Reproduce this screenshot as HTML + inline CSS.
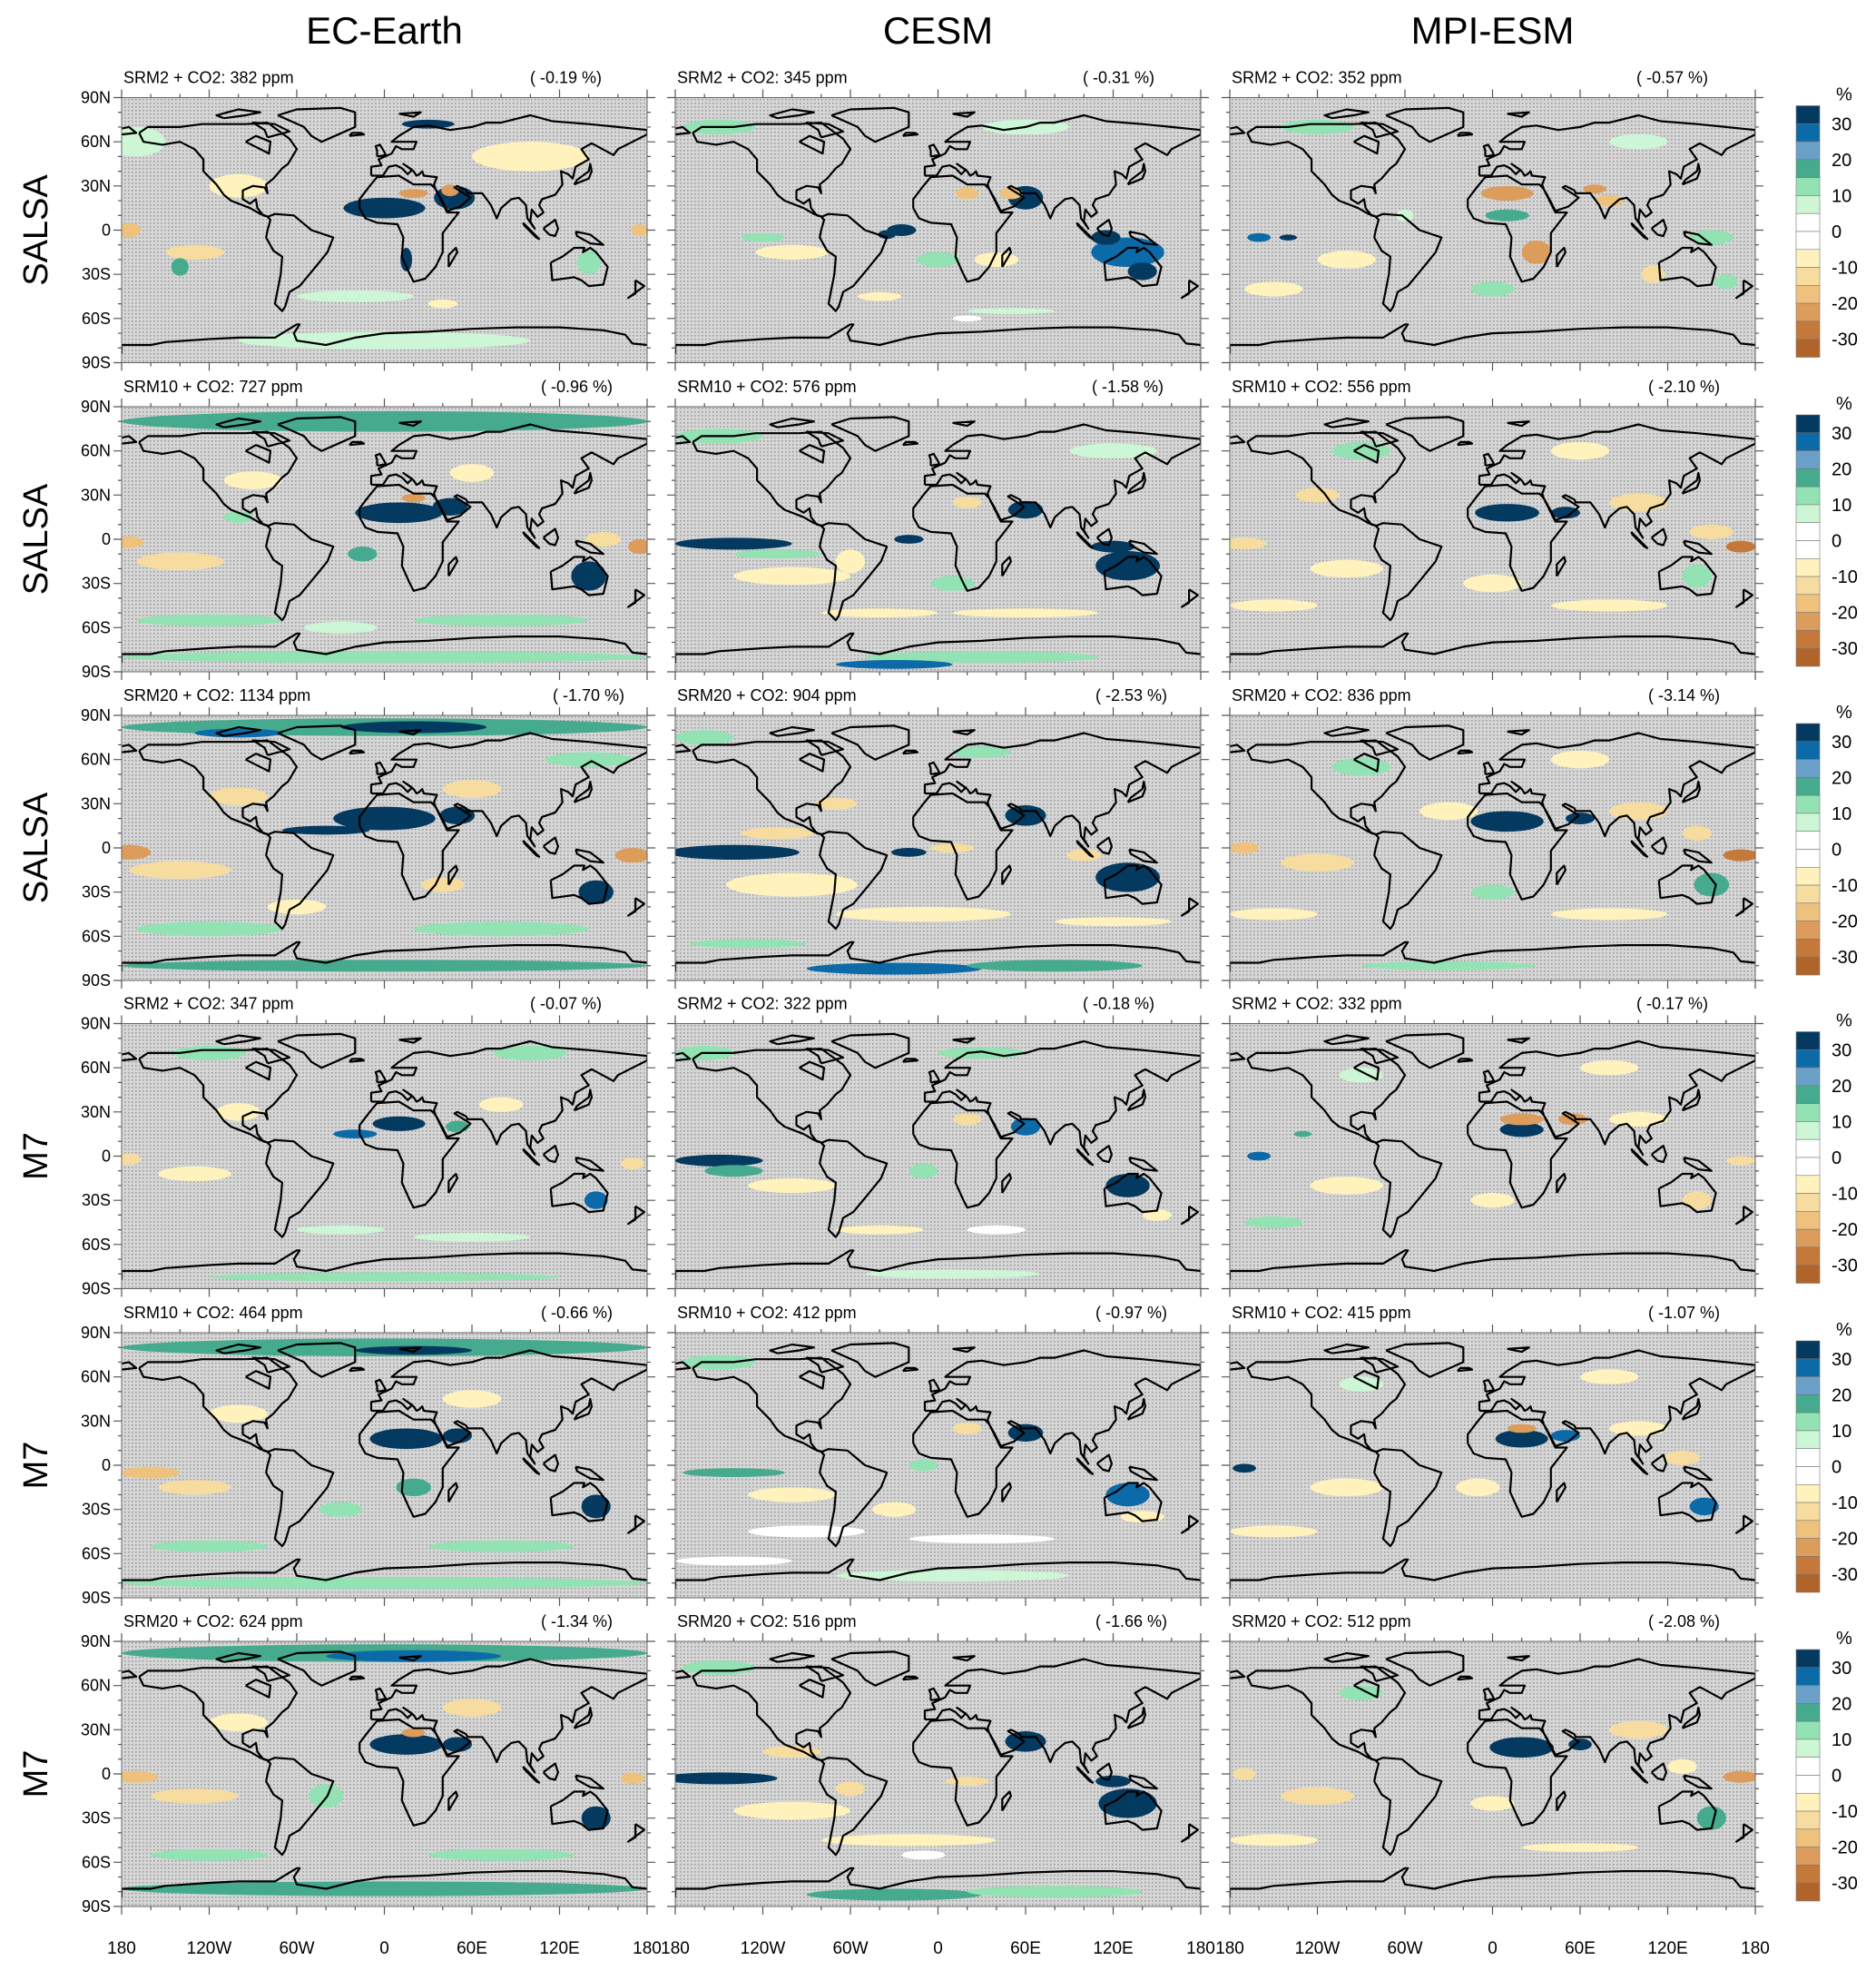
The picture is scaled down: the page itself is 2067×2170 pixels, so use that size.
<!DOCTYPE html>
<html><head><meta charset="utf-8">
<style>
html,body{margin:0;padding:0;background:#fff;}
svg{display:block;font-family:"Liberation Sans",Arial,sans-serif;}
</style></head>
<body>
<svg id="fig" width="2067" height="2170" viewBox="0 0 2067 2170" xmlns="http://www.w3.org/2000/svg">
<defs>
<pattern id="stip" width="4" height="4" patternUnits="userSpaceOnUse">
<rect width="4" height="4" fill="#d6d6d6"/><rect x="1" y="1" width="1.6" height="1.6" fill="#9c9c9c"/>
</pattern>
</defs>
</svg>
<script>
const modelNames = ['EC-Earth','CESM','MPI-ESM'];
const rowLabels = ['SALSA','SALSA','SALSA','M7','M7','M7'];
const subtitles = [
 ['SRM2 + CO2: 382 ppm','SRM2 + CO2: 345 ppm','SRM2 + CO2: 352 ppm'],
 ['SRM10 + CO2: 727 ppm','SRM10 + CO2: 576 ppm','SRM10 + CO2: 556 ppm'],
 ['SRM20 + CO2: 1134 ppm','SRM20 + CO2: 904 ppm','SRM20 + CO2: 836 ppm'],
 ['SRM2 + CO2: 347 ppm','SRM2 + CO2: 322 ppm','SRM2 + CO2: 332 ppm'],
 ['SRM10 + CO2: 464 ppm','SRM10 + CO2: 412 ppm','SRM10 + CO2: 415 ppm'],
 ['SRM20 + CO2: 624 ppm','SRM20 + CO2: 516 ppm','SRM20 + CO2: 512 ppm']];
const globalChange = [
 ['-0.19','-0.31','-0.57'],['-0.96','-1.58','-2.10'],['-1.70','-2.53','-3.14'],
 ['-0.07','-0.18','-0.17'],['-0.66','-0.97','-1.07'],['-1.34','-1.66','-2.08']];
const levelBounds = [-30,-25,-20,-15,-10,-5,0,5,10,15,20,25,30];
const levelColors = ['#b0642a','#c4793a','#dc9c5c','#eec27c','#f6dc9e','#fff2bc','#ffffff','#ffffff','#cdf6d6','#92e2b4','#45aa8e','#6aa0c8','#0c6aa8','#053a60'];
const colorbarLabels = ['30','20','10','0','-10','-20','-30'];
const latTicks = [90,60,30,0,-30,-60,-90];
const latTickLabels = ['90N','60N','30N','0','30S','60S','90S'];
const lonTicks = [-180,-120,-60,0,60,120,180];
const lonTickLabels = ['180','120W','60W','0','60E','120E','180'];
// anomaly blobs: [lon, lat, rxDeg, ryDeg, value%]
const blobs = [
 [[0,15,28,7,35],[48,22,14,8,35],[20,25,10,3,-22],[45,27,6,4,-22],[30,72,18,3,35],[15,-20,4,8,30],[-175,0,8,5,-20],[175,0,6,4,-20],[-130,-15,20,5,-15],[-140,-25,6,6,15],[100,50,40,10,-8],[-170,60,20,10,8],[0,-75,100,6,8],[-100,30,20,8,-10],[140,-22,8,8,12],[-20,-45,40,4,8],[40,-50,10,3,-8]],
 [[-25,0,10,4,30],[-35,-3,6,3,35],[60,22,12,8,30],[50,25,8,4,-18],[20,25,8,4,-18],[130,-15,25,10,25],[140,-28,10,6,35],[115,-5,10,5,30],[-100,-15,25,5,-8],[-40,-45,15,3,-8],[50,-55,30,2,8],[-120,-5,15,3,12],[-150,70,25,5,10],[60,70,30,5,8],[20,-60,10,2,0],[40,-20,15,5,-10],[0,-20,15,5,12]],
 [[10,25,18,5,-25],[10,10,15,4,15],[-160,-5,8,3,25],[-140,-5,6,2,30],[30,-15,10,8,-22],[80,20,10,4,-18],[70,28,8,3,-25],[110,-30,8,6,-15],[-100,-20,20,6,-8],[-60,10,6,4,8],[150,-5,15,5,12],[-150,-40,20,5,-10],[0,-40,15,5,10],[-120,70,25,5,10],[100,60,20,5,8],[160,-35,8,5,10]],
 [[0,80,180,7,15],[10,18,30,7,35],[45,22,12,6,30],[20,28,8,3,-25],[-175,-2,10,4,-20],[175,-5,8,5,-22],[-140,-15,30,6,-15],[140,-25,12,10,30],[-120,-55,50,4,10],[80,-55,60,4,10],[0,-80,180,4,12],[-90,40,20,6,-10],[60,45,15,6,-10],[-30,-60,25,4,8],[150,0,12,5,-15],[-100,15,10,4,10],[-15,-10,10,5,15]],
 [[-140,-3,40,4,35],[-20,0,10,3,35],[130,-18,22,10,30],[120,-5,15,4,35],[60,20,12,6,30],[-100,-25,40,6,-10],[-40,-50,40,3,-8],[60,-50,50,3,-8],[-30,-85,40,3,25],[30,-80,80,4,12],[-110,-10,30,3,12],[10,-30,15,5,12],[-60,-15,10,8,-10],[-150,70,30,5,12],[120,60,30,5,8],[20,25,10,4,-15]],
 [[10,18,22,6,35],[50,18,10,4,30],[-170,-3,15,4,-15],[170,-5,10,4,-28],[-120,30,15,5,-12],[100,25,20,6,-12],[-100,-20,25,6,-10],[0,-30,20,6,-8],[140,-25,10,8,12],[-150,-45,30,4,-8],[80,-45,40,4,-8],[60,60,20,6,-10],[-90,60,20,6,10],[150,5,15,5,-12]],
 [[0,82,180,6,15],[20,82,50,4,35],[-100,78,30,3,25],[0,20,35,8,35],[-40,12,30,3,30],[50,22,12,6,30],[145,-30,12,8,30],[-175,-3,15,5,-25],[170,-5,12,5,-22],[-140,-15,35,6,-15],[-120,-55,50,5,12],[80,-55,60,5,12],[0,-80,180,4,15],[-60,-40,20,5,-10],[60,40,20,6,-12],[-100,35,20,6,-12],[140,60,30,5,12],[40,-25,15,5,-12]],
 [[-140,-3,45,5,35],[-20,-3,12,3,35],[130,-20,22,10,30],[60,22,14,7,30],[-100,-25,45,8,-10],[-10,-45,60,5,-8],[120,-50,40,3,-8],[-30,-82,60,4,25],[80,-80,60,4,15],[-130,-65,40,3,12],[-110,10,25,4,-15],[10,0,15,3,-15],[100,-5,12,4,-12],[-70,30,15,4,-15],[-160,75,20,5,12],[30,65,20,4,12]],
 [[10,18,25,7,35],[60,20,10,4,30],[170,-5,12,4,-28],[-170,0,10,4,-18],[-120,-10,25,6,-12],[-30,25,20,6,-10],[100,25,20,6,-12],[150,-25,12,8,15],[0,-30,15,5,12],[-150,-45,30,4,-8],[80,-45,40,4,-8],[-30,-80,60,3,10],[60,60,20,6,-10],[-90,55,20,6,12],[140,10,10,5,-12]],
 [[10,22,18,5,30],[-20,15,15,3,25],[50,20,8,4,15],[-175,-2,8,4,-15],[-130,-12,25,5,-10],[145,-30,8,6,25],[-100,30,15,6,-10],[80,35,15,5,-10],[-30,-50,30,3,8],[60,-55,40,3,8],[0,-82,120,3,10],[-120,70,25,5,10],[100,70,25,5,10],[170,-5,8,4,-15]],
 [[-150,-3,30,4,35],[-140,-10,20,4,15],[130,-20,15,8,30],[60,20,10,6,25],[20,25,10,4,-15],[-100,-20,30,5,-8],[-40,-50,30,3,-8],[40,-50,20,3,0],[150,-40,10,4,-10],[-160,70,20,5,10],[30,70,30,4,10],[-10,-10,10,5,12],[10,-80,60,3,8]],
 [[20,18,15,5,35],[20,25,15,4,-22],[55,25,10,4,-25],[-160,0,8,3,25],[-130,15,6,2,15],[170,-3,10,3,-15],[140,-30,10,6,-12],[-100,-20,25,6,-8],[0,-30,15,5,-10],[100,25,20,5,-10],[-150,-45,20,4,10],[-90,55,15,5,8],[80,60,20,5,-8]],
 [[0,80,180,6,15],[20,78,40,3,30],[15,18,25,7,35],[50,20,10,5,30],[145,-28,10,8,30],[-160,-5,20,4,-20],[-130,-15,25,5,-15],[0,-80,180,4,12],[-120,-55,40,4,10],[80,-55,50,4,10],[-100,35,20,6,-10],[60,45,20,6,-10],[-30,-30,15,5,10],[20,-15,12,6,15]],
 [[-140,-5,35,3,15],[60,22,12,6,30],[20,25,10,4,-15],[130,-20,15,8,25],[-90,-45,40,4,0],[30,-50,50,3,0],[-140,-65,40,3,0],[-100,-20,30,5,-10],[-30,-30,15,5,-8],[-150,70,25,5,10],[140,-35,15,4,-10],[-10,0,10,4,12],[10,-75,80,4,8]],
 [[20,18,18,6,35],[-170,-2,8,3,35],[50,20,10,4,25],[20,25,10,3,-25],[145,-28,10,6,25],[-100,-15,25,6,-10],[-10,-15,15,6,-10],[100,25,20,5,-10],[130,5,12,5,-12],[-150,-45,30,4,-8],[-90,55,15,5,8],[80,60,20,5,-8]],
 [[0,82,180,6,15],[20,80,60,4,25],[15,20,25,7,35],[20,28,8,3,-25],[50,20,10,5,30],[145,-30,10,8,30],[-170,-2,15,4,-20],[170,-3,8,4,-20],[-130,-15,30,5,-15],[0,-78,180,5,15],[-120,-55,40,4,10],[80,-55,50,4,10],[-100,35,20,6,-10],[60,45,20,6,-12],[-40,-15,12,8,10]],
 [[-150,-3,40,4,35],[60,22,14,7,30],[130,-20,20,10,30],[120,-5,12,4,30],[-100,-25,40,6,-10],[-20,-45,60,4,-8],[-30,-82,60,4,15],[80,-80,60,4,10],[20,-5,15,3,-15],[-60,-10,10,5,-15],[-150,72,25,5,10],[-100,15,20,4,-15],[-10,-55,15,3,0]],
 [[20,18,22,7,35],[60,20,8,4,30],[170,-2,12,4,-22],[-170,0,8,4,-12],[-120,-15,25,6,-12],[0,-20,15,5,-8],[100,30,20,6,-12],[150,-30,10,8,15],[-150,-45,30,4,-8],[60,-50,40,3,-8],[-90,55,15,5,10],[130,5,10,5,-10]]
];
const coasts = [
 [[-168,66],[-162,70],[-140,70],[-125,72],[-95,72],[-80,73],[-65,62],[-60,55],[-66,45],[-70,42],[-76,35],[-81,31],[-80,25],[-82,29],[-90,30],[-97,27],[-97,21],[-92,18],[-88,21],[-87,15],[-83,10],[-79,9],[-85,11],[-92,15],[-105,20],[-110,24],[-115,31],[-118,34],[-124,40],[-124,48],[-130,55],[-140,60],[-152,58],[-165,60],[-168,66]],
 [[-95,60],[-85,55],[-79,52],[-78,60],[-88,64],[-95,60]],
 [[-73,78],[-60,82],[-30,83],[-20,80],[-20,70],[-43,60],[-50,64],[-55,70],[-73,78]],
 [[-80,63],[-65,67],[-75,72],[-90,73],[-82,68],[-80,63]],
 [[-110,76],[-95,78],[-85,80],[-100,82],[-115,78],[-110,76]],
 [[-80,9],[-75,11],[-62,10],[-50,0],[-35,-5],[-39,-15],[-48,-26],[-58,-38],[-65,-42],[-68,-52],[-70,-55],[-75,-50],[-73,-40],[-71,-30],[-70,-18],[-76,-14],[-81,-5],[-80,0],[-78,7],[-80,9]],
 [[-17,15],[-17,21],[-10,30],[-5,36],[10,37],[20,31],[32,31],[35,28],[43,12],[51,12],[40,-2],[40,-15],[35,-25],[28,-33],[20,-35],[17,-29],[12,-18],[13,-5],[9,4],[-5,5],[-13,8],[-17,15]],
 [[-9,37],[-9,43],[-2,44],[-4,48],[5,52],[8,57],[12,55],[20,55],[22,60],[5,60],[10,64],[20,70],[30,71],[45,68],[60,70],[70,73],[80,73],[100,78],[115,74],[140,72],[160,70],[180,68],[180,65],[170,60],[160,55],[157,51],[142,59],[135,55],[140,48],[131,43],[129,35],[126,38],[121,40],[122,31],[117,24],[108,21],[106,17],[109,12],[105,9],[101,14],[100,6],[103,1],[98,8],[97,17],[92,22],[87,21],[80,15],[77,8],[73,17],[67,25],[57,25],[56,27],[50,30],[48,29],[56,24],[59,22],[52,16],[43,13],[39,21],[35,28],[34,31],[36,36],[27,37],[26,40],[24,38],[22,37],[20,40],[13,45],[19,41],[16,38],[12,42],[8,44],[3,43],[-1,37],[-9,37]],
 [[-180,65],[-170,66],[-175,70],[-180,69]],
 [[114,-22],[122,-18],[130,-12],[137,-12],[136,-15],[141,-12],[145,-15],[153,-25],[150,-37],[140,-38],[135,-34],[130,-32],[115,-34],[114,-22]],
 [[109,1],[113,-3],[117,-4],[119,1],[117,7],[110,2],[109,1]],
 [[95,5],[106,-6],[104,-5],[96,3],[95,5]],
 [[131,-1],[141,-3],[150,-10],[141,-9],[132,-4],[131,-1]],
 [[130,31],[140,35],[142,40],[141,45],[140,40],[132,34],[130,31]],
 [[-5,50],[1,51],[0,53],[-3,58],[-6,57],[-5,54],[-5,50]],
 [[-24,64],[-14,65],[-16,66],[-22,66],[-24,64]],
 [[44,-25],[50,-15],[49,-12],[44,-17],[44,-25]],
 [[172,-34],[178,-38],[174,-41],[167,-46],[172,-43],[172,-34]],
 [[10,79],[25,80],[20,77],[10,79]],
 [[-180,-84],[-180,-78],[-160,-78],[-150,-76],[-120,-74],[-100,-73],[-75,-73],[-60,-64],[-58,-64],[-62,-70],[-60,-75],[-40,-78],[-20,-73],[0,-70],[30,-69],[60,-67],[90,-66],[120,-66],[150,-68],[165,-71],[170,-77],[180,-78]]
];
const W = 579, H = 292;
const colLeft = [134, 744, 1355];
const rowTop = [107.5, 448, 788, 1127.5, 1468, 1808];
const rightEnds = [[663,1272,1882],[675,1282,1895],[688,1286,1895],[663,1272,1882],[675,1286,1895],[675,1286,1895]];
const NS = 'http://www.w3.org/2000/svg';
const svg = document.getElementById('fig');
function mk(tag, attrs, parent){const e=document.createElementNS(NS,tag);for(const k in attrs)e.setAttribute(k,attrs[k]);(parent||svg).appendChild(e);return e;}
function colorFor(v){let i=0;while(i<levelBounds.length && v>=levelBounds[i])i++;return levelColors[i];}

modelNames.forEach((m,c)=>{
  const t=mk('text',{x:colLeft[c]+W/2,y:48,'font-size':42,'text-anchor':'middle',fill:'#000'});
  t.textContent=m;
  
  
});

for(let r=0;r<6;r++){
  const top=rowTop[r];
  const rl=mk('text',{x:0,y:0,'font-size':38,'text-anchor':'middle',fill:'#000',transform:`translate(52,${top+H/2}) rotate(-90)`});
  rl.textContent=rowLabels[r];
  
  
  for(let c=0;c<3;c++){
    const L=colLeft[c], p=r*3+c;
    const xs=lon=>L+(lon+180)/360*W;
    const ys=lat=>top+(90-lat)/180*H;
    const g=mk('g',{});
    
    
    const cp=mk('clipPath',{id:'cp'+p},g);
    mk('rect',{x:L,y:top,width:W,height:H},cp);
    const inner=mk('g',{'clip-path':`url(#cp${p})`},g);
    const bg=mk('rect',{x:L,y:top,width:W,height:H,fill:'url(#stip)'},inner);
    
    
    const list=blobs[p].slice().sort((a,b)=>(b[2]*b[3])-(a[2]*a[3]));
    list.forEach(b=>{
      const e=mk('ellipse',{cx:xs(b[0]),cy:ys(b[1]),rx:b[2]/360*W,ry:b[3]/180*H,fill:colorFor(b[4])},inner);
      
      
    });
    let d='';
    coasts.forEach(poly=>{poly.forEach((pt,i)=>{d+=(i?'L':'M')+xs(pt[0]).toFixed(1)+' '+ys(pt[1]).toFixed(1);});});
    const cl=mk('path',{d:d,fill:'none',stroke:'#000','stroke-width':2.2,'stroke-linejoin':'round'},inner);
    
    
    const fr=mk('rect',{x:L,y:top,width:W,height:H,fill:'none',stroke:'#666','stroke-width':1},g);
    
    
    let td='';
    for(let lat=-90;lat<=90;lat+=10){const yy=ys(lat);const len=(lat%30===0)?9:4;td+=`M${L-len} ${yy}H${L}M${L+W} ${yy}H${L+W+len}`;}
    for(let lon=-180;lon<=180;lon+=20){const xx=xs(lon);const len=(lon%60===0)?9:4;td+=`M${xx} ${top-len}V${top}M${xx} ${top+H}V${top+H+len}`;}
    mk('path',{d:td,stroke:'#555','stroke-width':1.2,fill:'none'},g);
    if(c===0){
      latTicks.forEach((lat,i)=>{
        const t=mk('text',{x:L-12,y:ys(lat)+6,'font-size':18,'text-anchor':'end',fill:'#000'},g);
        t.textContent=latTickLabels[i];
        
        
      });
    }
    if(r===5){
      lonTicks.forEach((lon,i)=>{
        const t=mk('text',{x:xs(lon),y:2152,'font-size':19,'text-anchor':'middle',fill:'#000'},g);
        t.textContent=lonTickLabels[i];
        
        
      });
    }
    const st=mk('text',{x:L+2,y:top-16,'font-size':18,fill:'#000'},g);
    st.textContent=subtitles[r][c];
    
    
    const gc=mk('text',{x:rightEnds[r][c],y:top-16,'font-size':18,'text-anchor':'end',fill:'#000'},g);
    gc.textContent='( '+globalChange[r][c]+' %)';
    
    
  }
  const cb=mk('g',{});
  
  
  const cbTop=top+9, bh=277/14, cx=1979;
  for(let i=0;i<14;i++){
    mk('rect',{x:cx,y:cbTop+i*bh,width:26,height:bh,fill:levelColors[13-i],stroke:'#777','stroke-width':0.6},cb);
  }
  const pc=mk('text',{x:2023,y:cbTop-6,'font-size':20,fill:'#000'},cb);
  pc.textContent='%';
  colorbarLabels.forEach((lb,i)=>{
    const t=mk('text',{x:2018,y:cbTop+(1+2*i)*bh+7,'font-size':20,fill:'#000'},cb);
    t.textContent=lb;
    
    
  });
}
</script>
</body></html>
